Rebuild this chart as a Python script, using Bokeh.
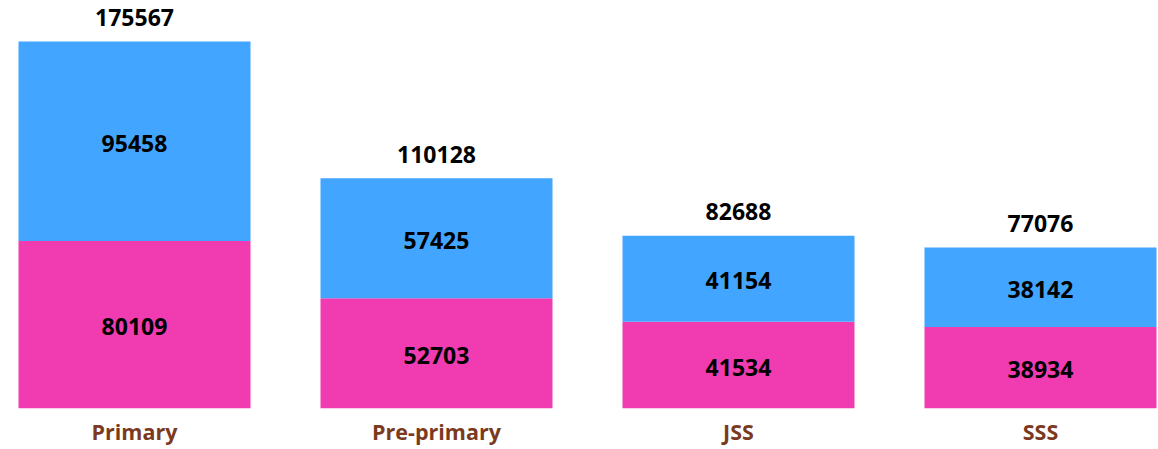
from bokeh.plotting import figure
from bokeh.models import ColumnDataSource, Range1d, FixedTicker
from bokeh.core.properties import value
from bokeh.embed import file_html
from bokeh.resources import INLINE

categories = ["Primary", "Pre-primary", "JSS", "SSS"]
pink_vals = [80109, 52703, 41534, 38934]
blue_vals = [95458, 57425, 41154, 38142]

xs = list(range(len(categories)))
totals = [a + b for a, b in zip(pink_vals, blue_vals)]

src = ColumnDataSource(dict(
    x=xs,
    pink=pink_vals,
    blue=blue_vals,
    total=totals,
    pink_mid=[v / 2 for v in pink_vals],
    blue_mid=[p + b / 2 for p, b in zip(pink_vals, blue_vals)],
    pink_lbl=[str(v) for v in pink_vals],
    blue_lbl=[str(v) for v in blue_vals],
    total_lbl=[str(v) for v in totals],
))

FW, FH = 1158, 408
unit = 302.0
start = -134.0 / unit
p = figure(frame_width=FW, frame_height=FH, output_backend="svg", toolbar_location=None,
           x_range=Range1d(start, start + FW / unit),
           y_range=Range1d(0, 175567 * 408 / 367),
           min_border_left=0, min_border_right=0, min_border_top=0,
           min_border_bottom=0, outline_line_color=None)

bw = 232.0 / unit
p.vbar(x="x", bottom=0, top="pink", width=bw, source=src,
       fill_color="#F03CB0", line_color=None)
p.vbar(x="x", bottom="pink", top="total", width=bw, source=src,
       fill_color="#42A5FF", line_color=None)

font = value("Open Sans")
common = dict(text_font=font, text_font_style="bold", text_font_size="23px",
              text_color="black", text_align="center", source=src)
p.text(x="x", y="pink_mid", text="pink_lbl", text_baseline="middle", y_offset=2, **common)
p.text(x="x", y="blue_mid", text="blue_lbl", text_baseline="middle", y_offset=2, **common)
p.text(x="x", y="total", text="total_lbl", text_baseline="middle", y_offset=-24, **common)

p.xgrid.visible = False
p.ygrid.visible = False
p.yaxis.visible = False
ax = p.xaxis[0]
ax.ticker = FixedTicker(ticks=xs)
ax.major_label_overrides = {i: c for i, c in zip(xs, categories)}
ax.axis_line_color = None
ax.major_tick_line_color = None
ax.minor_tick_line_color = None
ax.major_tick_out = 0
ax.major_tick_in = 0
ax.minor_tick_out = 0
ax.minor_tick_in = 0
ax.major_label_text_font = "Open Sans"
ax.major_label_text_font_style = "bold"
ax.major_label_text_font_size = "21.5px"
ax.major_label_text_color = "#7B3A1E"
ax.major_label_standoff = 8

open("out.html", "w").write(file_html(p, INLINE))
